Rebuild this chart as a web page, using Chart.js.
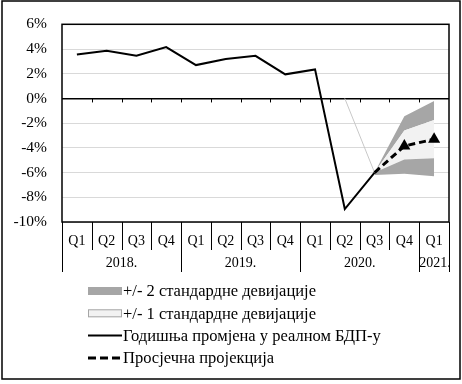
<!DOCTYPE html>
<html>
<head>
<meta charset="utf-8">
<script src="https://cdn.jsdelivr.net/npm/chart.js@4"></script>
<style>
  html, body { margin: 0; padding: 0; background: #fff; }
  #wrap { width: 462px; height: 384px; position: relative; }
</style>
</head>
<body>
<div id="wrap"><canvas id="chart" width="462" height="384"></canvas></div>
<script>
// quarters and years on the x axis
const quarters = ['Q1', 'Q2', 'Q3', 'Q4', 'Q1', 'Q2', 'Q3', 'Q4', 'Q1', 'Q2', 'Q3', 'Q4', 'Q1'];
const years = ['2018.', '2019.', '2020.', '2021.'];
const yearSpans = [4, 4, 4, 1];
const yTicks = [6, 4, 2, 0, -2, -4, -6, -8, -10];

// annual change of real GDP, %
const actual = [3.55, 3.85, 3.45, 4.15, 2.7, 3.2, 3.45, 1.95, 2.35, -8.95, -6.0, null, null];
// average projection
const projection = [null, null, null, null, null, null, null, null, null, null, -6.0, -3.85, -3.3];
// thin grey edge left from the band series
const edgeLine = [null, null, null, null, null, null, null, null, null, 0, -6.0, null, null];
// fan bounds
const outerLow = [null, null, null, null, null, null, null, null, null, null, -6.2, -6.1, -6.3];
const innerLow = [null, null, null, null, null, null, null, null, null, null, -6.0, -4.95, -4.85];
const innerHigh = [null, null, null, null, null, null, null, null, null, null, -6.0, -2.6, -1.75];
const outerHigh = [null, null, null, null, null, null, null, null, null, null, -6.0, -1.45, -0.2];

const legendItems = [
    { text: '+/- 2 стандардне девијације', kind: 'dark' },
    { text: '+/- 1 стандардне девијације', kind: 'light' },
    { text: 'Годишња промјена у реалном БДП-у', kind: 'line' },
    { text: 'Просјечна пројекција', kind: 'dash' }
];

const SERIF = '"Liberation Serif", "Times New Roman", serif';
const DARK = '#a6a6a6';
const LIGHT = '#f2f2f2';

// frames, zero-line ticks, two-row x labels and the legend
const decor = {
    id: 'decor',
    afterDraw(chart) {
        const ctx = chart.ctx;
        const a = chart.chartArea;
        const x = chart.scales.x;
        const y = chart.scales.y;
        const step = (x.getPixelForValue(1) - x.getPixelForValue(0));
        const edge = i => x.getPixelForValue(0) - step / 2 + i * step;
        const y0 = y.getPixelForValue(0);

        ctx.save();
        ctx.strokeStyle = '#000';
        ctx.lineWidth = 1.5;
        ctx.strokeRect(a.left, a.top, a.right - a.left, a.bottom - a.top);
        ctx.strokeRect(2, 1, 458, 378);

        // small ticks under the zero line
        ctx.lineWidth = 1;
        for (let i = 1; i < quarters.length; i++) {
            const px = Math.round(edge(i)) + 0.5;
            ctx.beginPath();
            ctx.moveTo(px, y0);
            ctx.lineTo(px, y0 + 4);
            ctx.stroke();
        }

        // quarter labels
        ctx.fillStyle = '#000';
        ctx.font = '14px ' + SERIF;
        ctx.textAlign = 'center';
        ctx.textBaseline = 'middle';
        quarters.forEach((q, i) => ctx.fillText(q, x.getPixelForValue(i), a.bottom + 19));
        for (let i = 1; i < quarters.length; i++) {
            const px = Math.round(edge(i)) + 0.5;
            ctx.beginPath();
            ctx.moveTo(px, a.bottom);
            ctx.lineTo(px, a.bottom + 28);
            ctx.stroke();
        }
        // year labels and separators
        let start = 0;
        years.forEach((yr, k) => {
            const l = edge(start), r = edge(start + yearSpans[k]);
            ctx.fillText(yr, (l + r) / 2 + (k === 3 ? 1 : 0), a.bottom + 41);
            start += yearSpans[k];
        });
        start = 0;
        [0].concat(yearSpans).forEach(s => {
            start += s;
            const px = Math.round(edge(start)) + 0.5;
            ctx.beginPath();
            ctx.moveTo(px, a.bottom);
            ctx.lineTo(px, a.bottom + 50);
            ctx.stroke();
        });

        // legend
        ctx.font = '16.5px ' + SERIF;
        ctx.textAlign = 'left';
        const lx = 88, lw = 34;
        legendItems.forEach((it, i) => {
            const cy = 291 + i * 22.3;
            if (it.kind === 'dark') {
                ctx.fillStyle = DARK;
                ctx.fillRect(lx, cy - 4, lw, 8);
            } else if (it.kind === 'light') {
                ctx.fillStyle = LIGHT;
                ctx.fillRect(lx, cy - 4, lw, 8);
                ctx.strokeStyle = DARK;
                ctx.lineWidth = 1;
                ctx.strokeRect(lx + 0.5, cy - 3.5, lw - 1, 7);
            } else {
                ctx.strokeStyle = '#000';
                ctx.lineWidth = it.kind === 'dash' ? 3 : 2;
                ctx.setLineDash(it.kind === 'dash' ? [8, 4] : []);
                ctx.beginPath();
                ctx.moveTo(lx, cy);
                ctx.lineTo(lx + lw, cy);
                ctx.stroke();
                ctx.setLineDash([]);
            }
            ctx.fillStyle = '#000';
            ctx.fillText(it.text, lx + lw + 1, cy + 1);
        });
        ctx.restore();
    }
};

new Chart(document.getElementById('chart'), {
    type: 'line',
    data: {
        labels: quarters,
        datasets: [
            {
                label: 'Просјечна пројекција',
                data: projection,
                borderColor: '#000',
                backgroundColor: '#000',
                borderWidth: 3,
                borderDash: [7, 4],
                pointStyle: 'triangle',
                pointRadius: c => (c.dataIndex > 10 ? 7 : 0),
                pointBorderWidth: 0,
                fill: false
            },
            {
                label: 'Годишња промјена у реалном БДП-у',
                data: actual,
                borderColor: '#000',
                borderWidth: 2,
                pointRadius: 0,
                fill: false
            },
            {
                data: edgeLine,
                borderColor: '#c8c8c8',
                borderWidth: 1,
                pointRadius: 0,
                fill: false
            },
            {
                data: outerLow,
                borderWidth: 0,
                borderColor: 'rgba(0,0,0,0)',
                pointRadius: 0,
                fill: false
            },
            {
                label: '+/- 2 стандардне девијације',
                data: innerLow,
                borderWidth: 0,
                borderColor: 'rgba(0,0,0,0)',
                backgroundColor: DARK,
                pointRadius: 0,
                fill: 3
            },
            {
                label: '+/- 1 стандардне девијације',
                data: innerHigh,
                borderWidth: 0,
                borderColor: 'rgba(0,0,0,0)',
                backgroundColor: LIGHT,
                pointRadius: 0,
                fill: 4
            },
            {
                data: outerHigh,
                borderWidth: 0,
                borderColor: 'rgba(0,0,0,0)',
                backgroundColor: DARK,
                pointRadius: 0,
                fill: 5
            }
        ]
    },
    options: {
        responsive: false,
        animation: false,
        layout: { padding: { left: 0, top: 22, right: 13, bottom: 162 } },
        plugins: {
            legend: { display: false },
            tooltip: { enabled: false }
        },
        scales: {
            x: {
                type: 'category',
                offset: true,
                display: false
            },
            y: {
                min: -10,
                max: 6,
                afterFit: s => { s.width = 62; },
                afterBuildTicks: s => { s.ticks = yTicks.map(v => ({ value: v })); },
                border: { display: false },
                grid: {
                    drawTicks: false,
                    color: c => (c.tick && c.tick.value === 0 ? '#000' : '#d9d9d9'),
                    lineWidth: c => (c.tick && c.tick.value === 0 ? 1.5 : 1)
                },
                ticks: {
                    padding: 15,
                    color: '#000',
                    font: { family: SERIF, size: 15.5 },
                    callback: v => v + '%'
                }
            }
        }
    },
    plugins: [decor]
});
</script>
</body>
</html>
